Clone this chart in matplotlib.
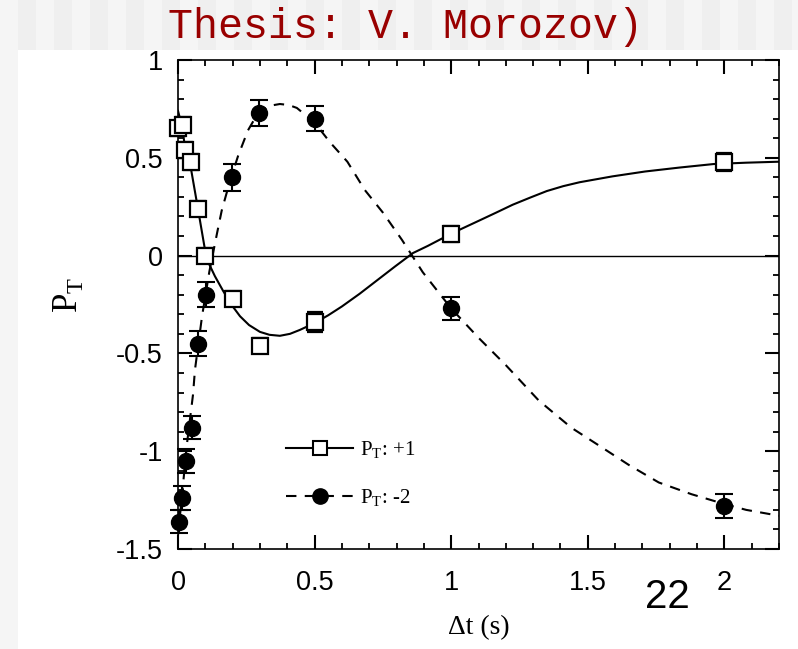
import matplotlib.pyplot as plt
from matplotlib.patches import Rectangle
from matplotlib.lines import Line2D
from matplotlib.ticker import MultipleLocator, FuncFormatter

plt.rcParams['axes.unicode_minus'] = False

# measured polarisation, P_T = +1 (open squares)
t_p1 = [0.0, 0.018, 0.026, 0.047, 0.073, 0.1, 0.2, 0.3, 0.5, 1.0, 2.0]
pt_p1 = [0.65, 0.67, 0.54, 0.48, 0.24, 0.0, -0.22, -0.46, -0.34, 0.11, 0.48]
err_p1 = [0.04, 0.04, 0.04, 0.04, 0.04, 0.04, 0.04, 0.04, 0.05, 0.04, 0.045]

# measured polarisation, P_T = -2 (filled circles)
t_m2 = [0.004, 0.015, 0.029, 0.051, 0.073, 0.102, 0.197, 0.296, 0.5, 1.0, 2.0]
pt_m2 = [-1.36, -1.24, -1.05, -0.88, -0.45, -0.20, 0.40, 0.73, 0.70, -0.27, -1.28]
err_m2 = [0.06, 0.06, 0.06, 0.06, 0.065, 0.065, 0.07, 0.065, 0.065, 0.06, 0.06]

# fitted curves
fit_t_p1 = [0.0, 0.015, 0.025, 0.048, 0.073, 0.1, 0.106, 0.135, 0.165, 0.195, 0.227,
            0.26, 0.30, 0.335, 0.373, 0.41, 0.446, 0.5, 0.55, 0.6, 0.665, 0.73,
            0.795, 0.86, 0.915, 0.97, 1.035, 1.104, 1.165, 1.225, 1.29, 1.35,
            1.41, 1.47, 1.59, 1.71, 1.835, 1.96, 2.08, 2.2]
fit_p1 = [0.74, 0.66, 0.56, 0.44, 0.24, 0.02, -0.02, -0.105, -0.18, -0.25, -0.31,
          -0.355, -0.39, -0.405, -0.41, -0.4, -0.38, -0.345, -0.305, -0.26, -0.195,
          -0.125, -0.055, 0.013, 0.05, 0.09, 0.135, 0.18, 0.22, 0.26, 0.297, 0.33,
          0.355, 0.375, 0.405, 0.43, 0.45, 0.468, 0.475, 0.48]

fit_t_m2 = [0.0, 0.015, 0.033, 0.055, 0.062, 0.088, 0.115, 0.143, 0.16, 0.19, 0.22,
            0.256, 0.283, 0.31, 0.34, 0.373, 0.405, 0.435, 0.5, 0.556, 0.62, 0.684,
            0.75, 0.82, 0.896, 1.0, 1.1, 1.2, 1.32, 1.44, 1.54, 1.65, 1.76, 1.88,
            2.0, 2.08, 2.2]
fit_m2 = [-1.43, -1.22, -0.96, -0.71, -0.585, -0.31, -0.08, 0.115, 0.23, 0.38, 0.51,
          0.64, 0.705, 0.745, 0.767, 0.775, 0.77, 0.755, 0.68, 0.58, 0.48, 0.335,
          0.22, 0.08, -0.085, -0.27, -0.42, -0.56, -0.74, -0.88, -0.97, -1.07,
          -1.16, -1.22, -1.27, -1.30, -1.33]

fig = plt.figure(figsize=(7.98, 6.49), dpi=100)
W, H = 798, 649

# striped slide background with white panel
fig.patch.set_facecolor('#efefef')
for i in range(0, W, 36):
    fig.add_artist(Rectangle((i / W, 0), 18 / W, 1, transform=fig.transFigure,
                             facecolor='#f5f5f5', edgecolor='none', zorder=0))
fig.add_artist(Rectangle((18 / W, 0), 1, 1 - 50 / H, transform=fig.transFigure,
                         facecolor='white', edgecolor='none', zorder=0))

fig.text(405 / W, 1 - 38 / H, 'Thesis: V. Morozov)', family='Liberation Mono',
         fontsize=30, color='#990000', ha='center', va='baseline')
fig.text(667 / W, 1 - 597 / H, '22', family='Liberation Sans', fontsize=29,
         ha='center', va='center')

ax = fig.add_axes([178 / W, 1 - 549 / H, 601 / W, 489 / H])
ax.set_facecolor('none')

ax.axhline(0, color='black', lw=1.0, zorder=1)
ax.plot(fit_t_p1, fit_p1, color='black', lw=1.5, zorder=2)
ax.plot(fit_t_m2, fit_m2, color='black', lw=1.5, ls=(0, (5, 4)), zorder=2)

eb1 = ax.errorbar(t_m2, pt_m2, yerr=err_m2, fmt='o', color='black', ms=11.5,
                  capsize=6.5, capthick=1.5, elinewidth=1.5, zorder=3)
eb2 = ax.errorbar(t_p1, pt_p1, yerr=err_p1, fmt='s', color='black', mfc='white',
                  mec='black', mew=1.6, ms=11, capsize=6, capthick=1.5,
                  elinewidth=1.5, zorder=4)
for eb in (eb1, eb2):
    for art in eb.get_children():
        art.set_clip_on(False)

ax.set_xlim(0, 2.2)
ax.set_ylim(-1.5, 1)
ax.xaxis.set_major_locator(MultipleLocator(0.5))
ax.xaxis.set_minor_locator(MultipleLocator(0.1))
ax.yaxis.set_major_locator(MultipleLocator(0.5))
ax.yaxis.set_minor_locator(MultipleLocator(0.1))
fmt = FuncFormatter(lambda v, p: '%g' % v)
ax.xaxis.set_major_formatter(fmt)
ax.yaxis.set_major_formatter(fmt)
ax.tick_params(which='both', direction='in', top=True, right=True)
ax.tick_params(which='major', length=10, width=1.5)
ax.tick_params(which='minor', length=4, width=1.3)
ax.tick_params(axis='x', which='major', pad=15)
ax.tick_params(axis='y', which='major', pad=11)
for lab in ax.get_xticklabels() + ax.get_yticklabels():
    lab.set_family('Liberation Sans')
    lab.set_fontsize(19.5)
for sp in ax.spines.values():
    sp.set_linewidth(1.2)

ax.set_xlabel('Δt (s)', family='Liberation Serif', fontsize=20)
ax.xaxis.set_label_coords(0.5, -0.135)
ax.set_ylabel('P$_\\mathregular{T}$', family='Liberation Serif', fontsize=25)
ax.yaxis.set_label_coords(-0.155, 0.52)

handles = [Line2D([], [], color='black', lw=1.5, marker='s', mfc='white',
                  mec='black', mew=1.5, ms=10),
           Line2D([], [], color='black', lw=1.5, ls=(0, (5, 4)), marker='o', ms=11)]
ax.legend(handles, ['P$_\\mathregular{T}$: +1', 'P$_\\mathregular{T}$: -2'],
          loc='upper left', bbox_to_anchor=(0.18, 0.225), frameon=False,
          prop={'family': 'Liberation Serif', 'size': 15}, handlelength=3.2,
          handletextpad=0.35, labelspacing=1.3, borderpad=0, borderaxespad=0)

fig.savefig('out.png', dpi=100)
